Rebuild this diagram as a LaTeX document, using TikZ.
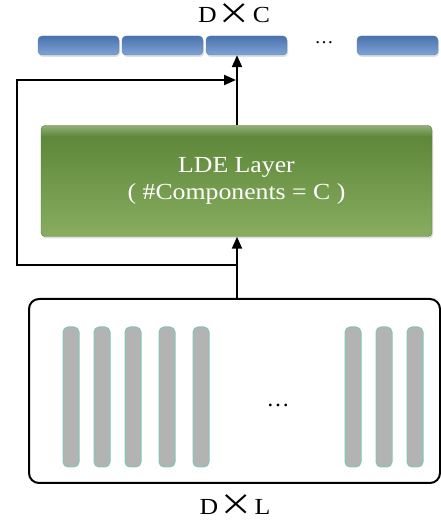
\documentclass[tikz,border=0pt]{standalone}
\usepackage{fontspec}
\setmainfont{Liberation Serif}
\newfontfamily\cjk{Noto Sans CJK SC}
\usetikzlibrary{arrows.meta,shadows}

\definecolor{BarBlueTop}{HTML}{4A72AC}
\definecolor{BarBlueBottom}{HTML}{7FA3D7}
\definecolor{BarBlueEdge}{HTML}{5A7FB5}
\definecolor{GreenTop}{HTML}{5E8739}
\definecolor{GreenBottom}{HTML}{88AD60}
\definecolor{GreenGloss}{HTML}{93AE78}
\definecolor{GreenEdge}{HTML}{5A7F3A}
\definecolor{ColumnGray}{HTML}{B3B3B3}
\definecolor{ColumnEdge}{HTML}{7FC7BB}

\pgfdeclareverticalshading{LdeShading}{100bp}{color(0bp)=(GreenBottom); color(25bp)=(GreenBottom); color(70bp)=(GreenTop); color(75bp)=(GreenGloss); color(100bp)=(GreenGloss)}

\newcommand{\LabelFont}{\fontsize{23}{27}\selectfont}
\newcommand{\wide}[1]{\scalebox{1.12}[1]{#1}}
\newcommand{\bycross}{\hspace{1.2pt}\smash{\raisebox{-1.5pt}{\scalebox{1.3}{\cjk ×}}}\hspace{1.2pt}}

\begin{document}
\begin{tikzpicture}
[
x=1pt, y=1pt,
OutBar/.style={rectangle, rounded corners=4pt, draw=BarBlueEdge, thin, top color=BarBlueTop, bottom color=BarBlueBottom, minimum width=81pt, minimum height=19pt, inner sep=0pt, drop shadow={shadow xshift=1pt, shadow yshift=-2pt, opacity=0.25}},
LdeBox/.style={rectangle, rounded corners=4pt, draw=GreenEdge, thin, shading=LdeShading, minimum width=391pt, minimum height=111pt, text=white, align=center, font=\LabelFont, drop shadow={shadow xshift=1pt, shadow yshift=-2pt, opacity=0.25}},
InputBox/.style={rectangle, rounded corners=10pt, draw=black, line width=2pt, minimum width=411pt, minimum height=184pt},
Column/.style={rectangle, rounded corners=5pt, draw=ColumnEdge, fill=ColumnGray, line width=1pt, minimum width=16pt, minimum height=140pt, inner sep=0pt},
Label/.style={font=\LabelFont, inner sep=0pt, anchor=base},
Flow/.style={-{Triangle[length=12pt,width=10pt]}, line width=2pt, draw=black},
]

\useasboundingbox (0,0) rectangle (441,523);

% output D x C
\node[Label] (outlabel) at (234,500) {\wide{D\bycross C}};
\node[OutBar] (out1) at ( 78.5,477.5) {};
\node[OutBar] (out2) at (162.5,477.5) {};
\node[OutBar] (out3) at (246.5,477.5) {};
\node[Label, font=\fontsize{19}{22}\selectfont] (outdots) at (324,479) {\dots};
\node[OutBar] (out4) at (397.5,477.5) {};

% LDE layer
\node[LdeBox] (lde) at (236.5,342) {\wide{LDE Layer}\\ \wide{( \#Components = C )}};

% input D x L
\node[InputBox] (input) at (234.5,132) {};

\node[Column] (col1) at ( 71,126) {};
\node[Column] (col2) at (102,126) {};
\node[Column] (col3) at (133,126) {};
\node[Column] (col4) at (167,126) {};
\node[Column] (col5) at (201,126) {};
\node[Label] (indots) at (278,116) {\dots};
\node[Column] (col6) at (353,126) {};
\node[Column] (col7) at (384,126) {};
\node[Column] (col8) at (415,126) {};

\node[Label] (inlabel) at (235,9) {\wide{D\bycross L}};

% flow
\coordinate (split) at (237,258);
\coordinate (loopTop) at (17,443);

\draw[Flow] (input.north -| split) -- (lde.south -| split);
\draw[Flow] (lde.north -| split) -- (out3.south -| split);
\draw[Flow, shorten >=1pt] (split) -| (loopTop) -- (loopTop -| split);

\end{tikzpicture}
\end{document}
